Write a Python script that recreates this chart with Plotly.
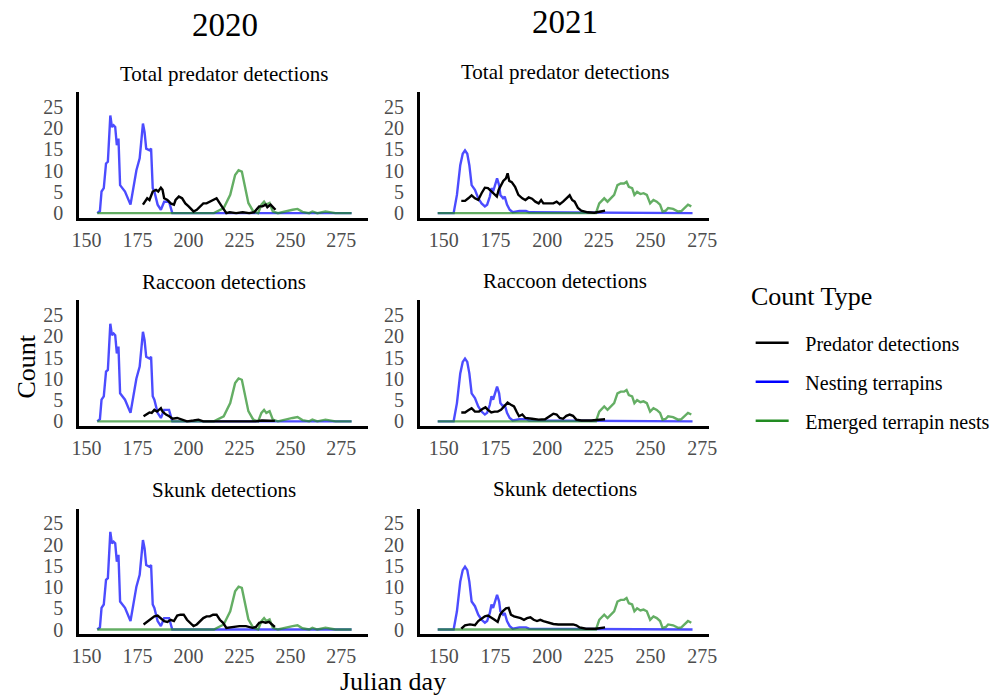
import plotly.graph_objects as go

# ---------------- data ----------------
years = ["2020", "2021"]
panel_titles = ["Total predator detections", "Raccoon detections", "Skunk detections"]
series_names = ["Predator detections", "Nesting terrapins", "Emerged terrapin nests"]
y_ticks = [0, 5, 10, 15, 20, 25]
x_ticks = [150, 175, 200, 225, 250, 275]

# 2020 nesting terrapins
nest_2020_day = [155.3, 156.6, 157.4, 158.5, 159.6, 160.5, 161.7, 162.5, 163.3, 164.1,
                 164.9, 165.7, 166.5, 168.9, 171.6, 174.5, 176.1, 177.7, 178.5, 179.3,
                 180.9, 181.7, 182.5, 183.3, 184.9, 186.5, 188.1, 190.5, 192.1, 280]
nest_2020_n = [0, 0.5, 5.1, 5.9, 11.7, 12.1, 23.0, 20.3, 20.7, 20.3,
               16.0, 17.6, 6.6, 5.1, 2.0, 10.1, 12.9, 21.1, 19.1, 15.2,
               14.8, 15.2, 5.9, 5.1, 2.0, 0.8, 2.7, 2.7, 0, 0]

# 2020 emerged terrapin nests
emerge_2020_day = [155.3, 212.5, 217.3, 220.5, 222.9, 224.6, 226.2, 227.8, 229.4, 231.8,
                   234.2, 235.8, 237.1, 238.2, 239.8, 241.4, 243.9, 251.1, 253.5, 255.9,
                   259.2, 260.8, 263.2, 267.2, 269.6, 272.1, 280]
emerge_2020_n = [0, 0, 1.2, 4.3, 9.0, 10.1, 9.8, 5.9, 2.4, 0.4,
                 0, 2.0, 2.7, 2.0, 2.4, 0.4, 0, 0.8, 1.0, 0.3,
                 0, 0.4, 0, 0.4, 0.2, 0, 0]

# 2020 predator detections
total_2020_day = [177.7, 178.5, 179.8, 180.9, 182.5, 184.1, 185.2, 186.5, 187.3, 188.1,
                  189.7, 191.3, 192.9, 193.7, 195.3, 196.9, 198.5, 200.1, 202.5, 204.1,
                  205.7, 207.3, 208.9, 210.5, 212.1, 213.8, 215.4, 217.0, 218.6, 220.2,
                  223.4, 226.6, 229.8, 232.2, 234.7, 236.3, 237.9, 238.7, 240.3, 241.9, 242.7]
total_2020_n = [2.0, 2.7, 3.5, 3.1, 5.1, 5.5, 5.1, 6.0, 5.5, 3.5,
                3.1, 2.3, 2.0, 3.1, 3.9, 3.5, 2.3, 1.6, 0.4, 0.8,
                1.6, 2.3, 2.3, 2.7, 3.1, 3.5, 2.3, 1.2, 0, 0.2,
                0, 0.2, 0, 0.2, 1.6, 1.6, 2.0, 1.4, 2.0, 1.2, 0.8]

raccoon_2020_day = [178.0, 179.3, 180.9, 182.0, 183.3, 184.6, 185.7, 186.5, 187.3, 189.0,
                    190.6, 192.2, 194.5, 196.9, 199.3, 202.5, 204.9, 207.3, 220.0, 233.0,
                    236.0, 240.0, 242.4]
raccoon_2020_n = [1.2, 1.6, 2.1, 2.0, 2.7, 2.3, 2.9, 3.1, 2.3, 1.6,
                  1.2, 0.6, 0.8, 0.4, 0, 0.2, 0.4, 0, 0, 0,
                  0.2, 0.2, 0.1]

skunk_2020_day = [178.0, 180.1, 181.7, 183.3, 184.9, 186.5, 188.1, 189.7, 191.3, 192.9,
                  194.5, 196.1, 197.7, 199.3, 200.9, 202.5, 204.1, 205.7, 207.3, 208.9,
                  210.5, 212.1, 213.8, 215.4, 217.0, 218.6, 221.8, 225.0, 228.2, 231.4,
                  233.1, 234.7, 236.3, 237.9, 239.5, 241.1, 242.4]
skunk_2020_n = [1.2, 2.0, 2.7, 3.1, 3.3, 2.7, 2.0, 1.8, 2.3, 2.0,
                3.3, 3.5, 3.5, 2.3, 1.6, 0.8, 1.2, 2.0, 2.7, 3.1,
                3.1, 3.5, 3.5, 2.3, 1.6, 0.4, 0.6, 0.8, 0.8, 0.4,
                0.6, 1.6, 1.8, 1.6, 1.8, 1.2, 0.6]

# 2021 nesting terrapins
nest_2021_day = [147.1, 154.8, 156.4, 158.0, 159.2, 160.3, 161.4, 162.4, 163.5, 165.1,
                 166.7, 168.3, 169.9, 171.0, 172.3, 173.1, 173.9, 174.7, 175.8, 176.8,
                 177.4, 178.7, 179.5, 180.6, 181.9, 183.4, 186.6, 189.8, 191.3, 270.3]
nest_2021_n = [0, 0, 4.3, 11.3, 14.0, 14.8, 14.0, 11.3, 6.6, 5.5,
               3.5, 2.3, 1.6, 2.0, 3.9, 5.9, 5.1, 6.6, 8.2, 6.6,
               4.3, 3.5, 3.9, 2.0, 0.8, 0.2, 0.5, 0.5, 0.2, 0]

# 2021 emerged terrapin nests
emerge_2021_day = [147.1, 223.6, 225.2, 227.6, 229.2, 230.8, 232.4, 234.0, 235.6, 237.2,
                   238.4, 239.5, 241.1, 242.2, 243.5, 245.1, 246.6, 248.2, 249.8, 251.4,
                   253.0, 254.6, 255.8, 257.4, 258.5, 260.9, 263.3, 264.9, 266.5, 268.1, 269.7]
emerge_2021_n = [0, 0, 2.3, 3.5, 2.7, 3.5, 4.3, 6.6, 7.0, 7.0,
                 7.4, 6.2, 5.9, 4.3, 5.0, 4.5, 4.7, 4.3, 2.3, 3.1,
                 2.7, 2.0, 0.4, 0.6, 1.2, 1.0, 0.4, 0.5, 1.3, 2.0, 1.6]

# 2021 predator detections
total_2021_day = [158.5, 160.3, 161.9, 163.5, 165.1, 166.7, 168.3, 169.9, 171.4, 173.0,
                  174.6, 175.7, 176.6, 177.7, 178.8, 180.1, 180.9, 181.7, 182.9, 184.5,
                  186.1, 188.0, 189.5, 191.1, 192.7, 194.3, 195.9, 197.1, 198.2, 200.6,
                  203.0, 204.6, 206.1, 207.7, 209.3, 210.9, 212.1, 213.3, 214.9, 216.5,
                  219.6, 222.8, 226.0, 228.0]
total_2021_n = [2.9, 2.9, 3.5, 4.2, 3.5, 3.1, 4.7, 6.0, 5.9, 5.1,
                4.2, 3.9, 5.5, 6.6, 7.6, 8.2, 9.4, 7.6, 7.3, 6.2,
                4.3, 3.5, 3.1, 3.7, 3.4, 2.7, 2.3, 3.1, 2.3, 2.3,
                2.3, 2.7, 2.1, 2.7, 3.5, 4.2, 3.1, 2.7, 1.2, 0.6,
                0.2, 0.1, 0.4, 0.6]

raccoon_2021_day = [158.5, 160.3, 161.9, 163.5, 165.1, 167.1, 168.7, 170.2, 171.4, 173.0,
                    174.6, 176.1, 177.7, 179.3, 180.9, 182.5, 184.0, 185.2, 186.4, 188.0,
                    189.5, 192.7, 195.9, 199.0, 201.4, 203.0, 204.6, 206.1, 207.7, 209.3,
                    210.9, 212.5, 214.1, 216.5, 221.3, 228.0]
raccoon_2021_n = [2.1, 2.1, 2.6, 3.1, 2.3, 2.3, 2.9, 3.3, 2.7, 2.1,
                  2.3, 2.3, 2.7, 3.5, 4.4, 3.9, 3.5, 2.3, 1.2, 1.6,
                  0.8, 0.6, 0.4, 0.5, 1.2, 1.8, 1.6, 0.8, 0.6, 1.3,
                  1.6, 1.3, 0.4, 0.2, 0.2, 0.5]

skunk_2021_day = [158.5, 160.3, 162.7, 165.1, 166.7, 168.3, 169.9, 171.4, 173.0, 174.6,
                  176.1, 177.3, 178.5, 180.1, 181.4, 182.5, 184.0, 185.6, 187.2, 188.8,
                  190.3, 191.9, 193.5, 195.1, 196.7, 198.2, 200.6, 203.0, 205.4, 207.7,
                  210.1, 212.5, 214.1, 215.7, 218.8, 223.6, 228.0]
skunk_2021_n = [0.2, 1.0, 1.2, 1.0, 2.0, 2.6, 3.1, 3.3, 2.9, 2.3,
                1.8, 3.5, 4.3, 5.0, 5.1, 3.5, 3.1, 2.9, 2.7, 2.3,
                2.7, 2.9, 2.3, 2.0, 2.3, 2.0, 1.6, 1.3, 1.2, 1.2,
                1.2, 1.2, 1.0, 0.5, 0.2, 0.2, 0.5]

nesting = {"2020": (nest_2020_day, nest_2020_n), "2021": (nest_2021_day, nest_2021_n)}
emerged = {"2020": (emerge_2020_day, emerge_2020_n), "2021": (emerge_2021_day, emerge_2021_n)}
predators = {
    "2020": [(total_2020_day, total_2020_n), (raccoon_2020_day, raccoon_2020_n),
             (skunk_2020_day, skunk_2020_n)],
    "2021": [(total_2021_day, total_2021_n), (raccoon_2021_day, raccoon_2021_n),
             (skunk_2021_day, skunk_2021_n)],
}

# ---------------- styling ----------------
W, H = 999, 698
SERIF = "Liberation Serif, Times New Roman, serif"
BLACK = "#000000"
BLUE = "rgba(0,0,255,0.7)"
GREEN = "rgba(34,139,34,0.7)"
LW = 2.4
TICK_FONT = dict(family=SERIF, size=20, color="#4D4D4D")

col_px = [(73, 367), (419, 713)]
row_px = [(93, 220), (303, 430), (513, 640)]
x_ranges = [[146.3, 288.3], [138.4, 278.4]]
y_range = [-1.17, 28.5]

fig = go.Figure()
layout = {}

for r in range(3):
    for c, yr in enumerate(years):
        k = r * 2 + c + 1
        xa = "x" if k == 1 else f"x{k}"
        ya = "y" if k == 1 else f"y{k}"
        nd, nn = nesting[yr]
        ed, en = emerged[yr]
        pd_, pn = predators[yr][r]
        fig.add_trace(go.Scatter(x=nd, y=nn, mode="lines", line=dict(color=BLUE, width=LW),
                                 xaxis=xa, yaxis=ya, showlegend=False, hoverinfo="skip"))
        fig.add_trace(go.Scatter(x=ed, y=en, mode="lines", line=dict(color=GREEN, width=LW),
                                 xaxis=xa, yaxis=ya, showlegend=False, hoverinfo="skip"))
        fig.add_trace(go.Scatter(x=pd_, y=pn, mode="lines", line=dict(color=BLACK, width=LW),
                                 xaxis=xa, yaxis=ya, showlegend=False, hoverinfo="skip"))

        x0, x1 = col_px[c]
        y0, y1 = row_px[r]
        layout["xaxis" if k == 1 else f"xaxis{k}"] = dict(
            domain=[x0 / W, x1 / W], anchor=ya, range=x_ranges[c],
            tickvals=x_ticks, showgrid=False, zeroline=False, showline=True,
            linecolor="black", linewidth=2.5, ticks="", ticklabelstandoff=2,
            tickfont=TICK_FONT)
        layout["yaxis" if k == 1 else f"yaxis{k}"] = dict(
            domain=[1 - y1 / H, 1 - y0 / H], anchor=xa, range=y_range,
            tickvals=y_ticks, showgrid=False, zeroline=False, showline=True,
            linecolor="black", linewidth=2.5, ticks="", ticklabelstandoff=9,
            tickfont=TICK_FONT)

# legend entries (line key + label)
for i, (name, col) in enumerate(zip(series_names, [BLACK, "rgb(0,0,255)", "rgb(34,139,34)"])):
    fig.add_trace(go.Scatter(x=[None], y=[None], mode="lines",
                             name="\u2002\u200a" + name,
                             line=dict(color=col, width=2.5), legendgroup=name,
                             legendrank=i + 1, showlegend=True))

annotations = []
year_pos = [(221, 25), (566, 22)]
for (cx, cy), yr in zip(year_pos, years):
    annotations.append(dict(text=yr, x=cx / W, y=1 - cy / H, xref="paper", yref="paper",
                            showarrow=False, xanchor="center", yanchor="middle",
                            font=dict(family=SERIF, size=33, color="black")))
title_y = [[75, 73], [284, 283], [494, 493]]
for r, t in enumerate(panel_titles):
    for c in range(2):
        cx = (col_px[c][0] + col_px[c][1]) / 2
        annotations.append(dict(text=t, x=cx / W, y=1 - title_y[r][c] / H, xref="paper",
                                yref="paper", showarrow=False, xanchor="center",
                                yanchor="middle",
                                font=dict(family=SERIF, size=21, color="black")))
annotations.append(dict(text="Count", x=20 / W, y=1 - 370 / H, xref="paper", yref="paper",
                        showarrow=False, textangle=-90, xanchor="center", yanchor="middle",
                        font=dict(family=SERIF, size=26, color="black")))
annotations.append(dict(text="Julian day", x=392 / W, y=1 - 687 / H, xref="paper",
                        yref="paper", showarrow=False, xanchor="center", yanchor="middle",
                        font=dict(family=SERIF, size=26, color="black")))
# legend heading
annotations.append(dict(text="Count Type", x=753 / W, y=1 - 299 / H, xref="paper",
                        yref="paper", showarrow=False, xanchor="left", yanchor="middle",
                        font=dict(family=SERIF, size=26, color="black")))

fig.update_layout(
    width=W, height=H,
    margin=dict(l=0, r=0, t=0, b=0),
    paper_bgcolor="white", plot_bgcolor="white",
    annotations=annotations,
    legend=dict(x=755 / W, xanchor="left", y=1 - 326 / H, yanchor="top",
                font=dict(family=SERIF, size=20, color="black"),
                tracegroupgap=10, itemwidth=33, bgcolor="rgba(0,0,0,0)",
                traceorder="grouped"),
    **layout,
)

fig.write_html("out.html")
